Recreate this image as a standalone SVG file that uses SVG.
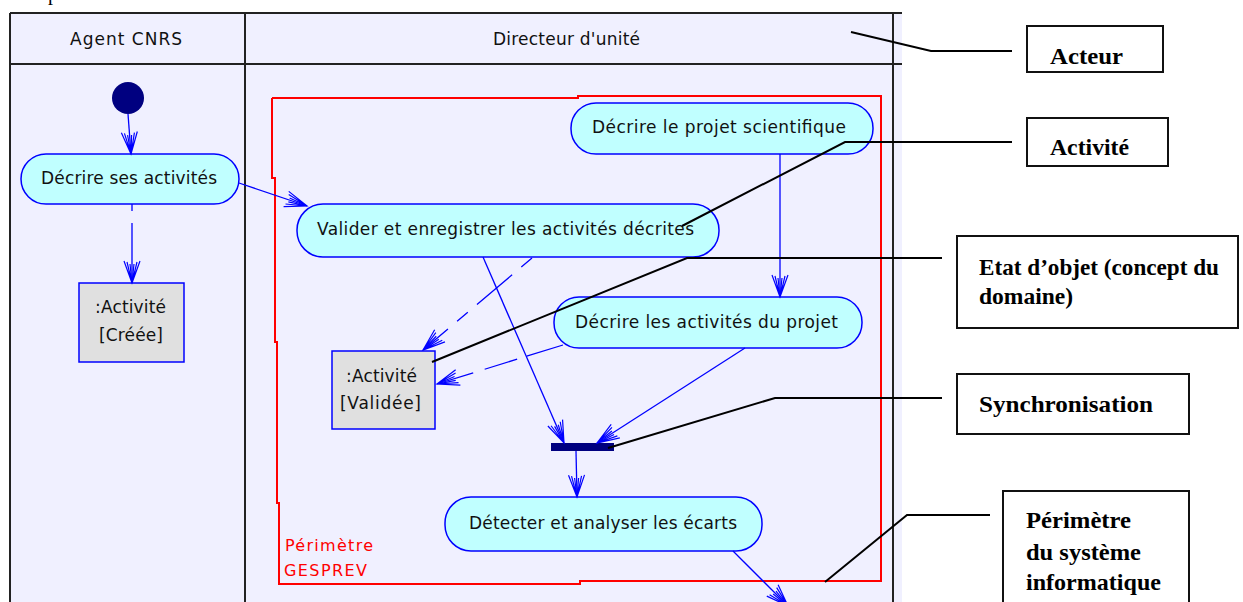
<svg xmlns="http://www.w3.org/2000/svg" width="1243" height="602" viewBox="0 0 1243 602">
  <defs>
    <!-- open "fan" arrowhead used by all control/object flows -->
    <marker id="open" markerUnits="userSpaceOnUse" markerWidth="30" markerHeight="24" viewBox="-26 -12 30 24" refX="0" refY="0" orient="auto">
      <path d="M-22,-8 L0,0 L-22,8 M-21,-5 L0,0 L-21,5 M-19,-2 L0,0 L-19,2" fill="none" stroke="#0000ff" stroke-width="1.2"/>
    </marker>
  </defs>
  <style>
    .lane{fill:none;stroke:#222;stroke-width:2}
    .act{fill:#c0ffff;stroke:#0000ff;stroke-width:1.5}
    .obj{fill:#e0e0e0;stroke:#0000ff;stroke-width:1.5}
    .t{font-family:"DejaVu Sans",sans-serif;font-size:17px;fill:#111}
    .flow{fill:none;stroke:#0000ff;stroke-width:1.3;marker-end:url(#open)}
    .lead{fill:none;stroke:#000;stroke-width:2}
    .note{fill:#fff;stroke:#111;stroke-width:2}
    .nt{font-family:"Liberation Serif","Times New Roman",serif;font-weight:bold;font-size:24px;fill:#000}
    .red{font-family:"DejaVu Sans",sans-serif;font-size:16px;fill:#ff0000}
  </style>

  <rect width="1243" height="602" fill="#fff"/>
  <text x="48" y="0" font-family="Liberation Serif, serif" font-size="20" fill="#000">p</text>

  <!-- swimlanes -->
  <g id="swimlanes">
    <rect x="10" y="13" width="892" height="600" fill="#f0f0ff"/>
    <path class="lane" d="M10,13 H902 M10,64 H902 M10,13 V602 M245,13 V602 M893,13 V602"/>
    <text class="t" x="70" y="45" textLength="112" lengthAdjust="spacing">Agent CNRS</text>
    <text class="t" x="493" y="45" textLength="147" lengthAdjust="spacing">Directeur d'unité</text>
  </g>

  <!-- system perimeter -->
  <g id="perimetre">
    <polyline points="272,98 578,98 578,96 881,96 881,581 580,581 580,584 279,584 279,503 277,503 277,342 275,342 275,178 272,178 272,98" fill="none" stroke="#ff0000" stroke-width="2"/>
    <text class="red" x="285" y="551" textLength="88" lengthAdjust="spacing">Périmètre</text>
    <text class="red" x="284" y="576" textLength="83" lengthAdjust="spacing">GESPREV</text>
  </g>

  <g id="initial">
    <circle cx="128" cy="98" r="16" fill="#000080"/>
  </g>

  <g id="decrire-activites">
    <rect class="act" x="21" y="154" width="218" height="50" rx="25"/>
    <text class="t" x="41" y="184" textLength="176" lengthAdjust="spacing">Décrire ses activités</text>
  </g>

  <g id="activite-creee">
    <rect class="obj" x="79" y="283" width="105" height="79"/>
    <text class="t" x="95" y="313" textLength="71" lengthAdjust="spacing">:Activité</text>
    <text class="t" x="99" y="341" textLength="64" lengthAdjust="spacing">[Créée]</text>
  </g>

  <g id="decrire-projet">
    <rect class="act" x="571" y="103" width="302" height="51" rx="25"/>
    <text class="t" x="592" y="133" textLength="254" lengthAdjust="spacing">Décrire le projet scientifique</text>
  </g>

  <g id="valider">
    <rect class="act" x="297" y="204" width="422" height="53" rx="26"/>
    <text class="t" x="317" y="235" textLength="377" lengthAdjust="spacing">Valider et enregistrer les activités décrites</text>
  </g>

  <g id="decrire-activites-projet">
    <rect class="act" x="554" y="297" width="308" height="51" rx="25"/>
    <text class="t" x="575" y="328" textLength="263" lengthAdjust="spacing">Décrire les activités du projet</text>
  </g>

  <g id="activite-validee">
    <rect class="obj" x="332" y="351" width="103" height="78"/>
    <text class="t" x="346" y="382" textLength="71" lengthAdjust="spacing">:Activité</text>
    <text class="t" x="340" y="409" textLength="81" lengthAdjust="spacing">[Validée]</text>
  </g>

  <g id="synchro">
    <rect x="551" y="443" width="63" height="8" fill="#000080"/>
  </g>

  <g id="detecter">
    <rect class="act" x="445" y="497" width="317" height="54" rx="26"/>
    <text class="t" x="469" y="529" textLength="268" lengthAdjust="spacing">Détecter et analyser les écarts</text>
  </g>

  <!-- annotation boxes -->
  <g id="note-acteur">
    <rect class="note" x="1027" y="26" width="136" height="46"/>
    <text class="nt" x="1050" y="64" textLength="73" lengthAdjust="spacingAndGlyphs">Acteur</text>
  </g>
  <g id="note-activite">
    <rect class="note" x="1027" y="118" width="141" height="48"/>
    <text class="nt" x="1050" y="155" textLength="79" lengthAdjust="spacingAndGlyphs">Activité</text>
  </g>
  <g id="note-etat">
    <rect class="note" x="957" y="236" width="281" height="92"/>
    <text class="nt" x="979" y="275" textLength="240" lengthAdjust="spacingAndGlyphs">Etat d’objet (concept du</text>
    <text class="nt" x="979" y="304" textLength="94" lengthAdjust="spacingAndGlyphs">domaine)</text>
  </g>
  <g id="note-synchro">
    <rect class="note" x="957" y="374" width="232" height="60"/>
    <text class="nt" x="979" y="412" textLength="174" lengthAdjust="spacingAndGlyphs">Synchronisation</text>
  </g>
  <g id="note-perimetre">
    <rect class="note" x="1003" y="491" width="186" height="130"/>
    <text class="nt" x="1026" y="528" textLength="105" lengthAdjust="spacingAndGlyphs">Périmètre</text>
    <text class="nt" x="1026" y="560" textLength="115" lengthAdjust="spacingAndGlyphs">du système</text>
    <text class="nt" x="1026" y="590" textLength="135" lengthAdjust="spacingAndGlyphs">informatique</text>
  </g>

  <!-- connectors -->
  <g id="connectors">
    <g id="flows">
      <path class="flow" d="M128,114 L131,154"/>
      <path class="flow" d="M132,204 L132,283" stroke-dasharray="7 12 100"/>
      <path class="flow" d="M239,183 L307,206"/>
      <path class="flow" d="M780,154 L780,297"/>
      <path class="flow" d="M483,257 L564,443"/>
      <path class="flow" d="M532,258 L423,350" stroke-dasharray="14 12 46 12"/>
      <path class="flow" d="M563,345 L437,384" stroke-dasharray="38 10 34 12"/>
      <path class="flow" d="M745,348 L597,443"/>
      <path class="flow" d="M576,451 L577,497"/>
      <path class="flow" d="M733,551 L788,606"/>
    </g>
    <g id="leaders">
      <path class="lead" d="M851,32 L931,51 L1012,51"/>
      <path class="lead" d="M682,226 L845,142 L1012,142"/>
      <path class="lead" d="M432,362 L687,258 L942,258"/>
      <path class="lead" d="M608,448 L775,398 L942,398"/>
      <path class="lead" d="M825,582 L907,515 L990,515"/>
    </g>
  </g>
</svg>
